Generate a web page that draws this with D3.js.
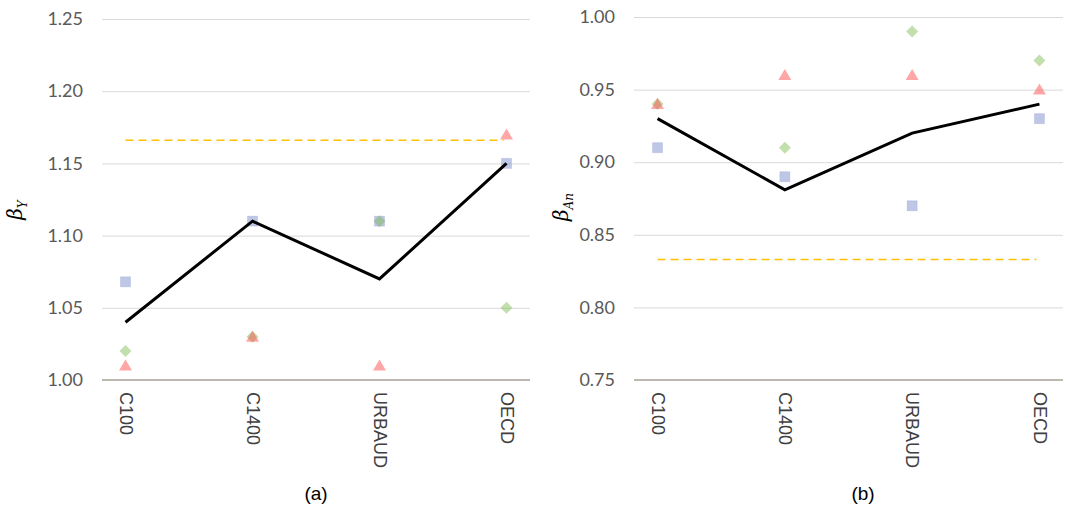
<!DOCTYPE html>
<html>
<head>
<meta charset="utf-8">
<script src="https://cdn.jsdelivr.net/npm/d3@7"></script>
<style>
  html, body { margin: 0; padding: 0; background: #fff; }
  svg { display: block; }
</style>
</head>
<body>
<svg id="chart" width="1068" height="510"></svg>
<script>
const categories = ["C100", "C1400", "URBAUD", "OECD"];

// Panel (a): beta_Y
const aMean     = [1.04, 1.11, 1.07, 1.15];
const aSquare   = [1.068, 1.11, 1.11, 1.15];
const aDiamond  = [1.02, 1.03, 1.11, 1.05];
const aTriangle = [1.01, 1.03, 1.01, 1.17];
const aRef = 1.166;
const aTicks = [1.00, 1.05, 1.10, 1.15, 1.20, 1.25];

// Panel (b): beta_An
const bMean     = [0.93, 0.881, 0.92, 0.94];
const bSquare   = [0.91, 0.89, 0.87, 0.93];
const bDiamond  = [0.94, 0.91, 0.99, 0.97];
const bTriangle = [0.94, 0.96, 0.96, 0.95];
const bRef = 0.833;
const bTicks = [0.75, 0.80, 0.85, 0.90, 0.95, 1.00];

const svg = d3.select("#chart");

function panel(cfg) {
  const g = svg.append("g");
  const x = d3.scalePoint().domain(categories).range([cfg.x0, cfg.x1]).padding(0.185);
  const y = d3.scaleLinear().domain([cfg.ticks[0], cfg.ticks[cfg.ticks.length - 1]]).range([cfg.yb, cfg.yt]);

  // gridlines
  const grid = g.append("g").attr("transform", `translate(${cfg.x0},0)`)
    .call(d3.axisLeft(y).tickValues(cfg.ticks).tickSize(-(cfg.x1 - cfg.x0)).tickFormat(""));
  grid.select(".domain").remove();
  grid.selectAll(".tick line").attr("stroke", "#d9d9d9").attr("stroke-width", 1);

  // baseline
  g.append("line").attr("x1", cfg.x0).attr("x2", cfg.x1)
    .attr("y1", y(cfg.ticks[0])).attr("y2", y(cfg.ticks[0]))
    .attr("stroke", "#bcb9b0").attr("stroke-width", 2);

  // y tick labels
  const ya = g.append("g").attr("transform", `translate(${cfg.x0 - 19},0)`)
    .call(d3.axisLeft(y).tickValues(cfg.ticks).tickSize(0).tickPadding(0).tickFormat(d3.format(".2f")));
  ya.select(".domain").remove();
  ya.selectAll("text").attr("font-family", "Lato, 'Liberation Sans', sans-serif")
    .attr("font-size", 18).attr("fill", "#595959");

  // x category labels, rotated
  const xa = g.append("g").attr("transform", `translate(0,${cfg.yb + 12})`)
    .call(d3.axisBottom(x).tickSize(0).tickPadding(0));
  xa.select(".domain").remove();
  xa.selectAll("text")
    .attr("font-family", "'Liberation Sans', Arial, sans-serif")
    .attr("font-size", 18).attr("fill", "#404040")
    .attr("text-anchor", "start").attr("dy", "0.35em").attr("y", 0)
    .attr("transform", "rotate(90)");

  // reference dashed line
  g.append("line")
    .attr("x1", x(categories[0])).attr("x2", x(categories[categories.length - 1]) - 3)
    .attr("y1", y(cfg.ref)).attr("y2", y(cfg.ref))
    .attr("stroke", "#ffc000").attr("stroke-width", 1.6).attr("stroke-dasharray", "8,5");

  // squares
  g.selectAll(".sq").data(cfg.square).join("rect")
    .attr("x", (d, i) => x(categories[i]) - 5).attr("y", d => y(d) - 5)
    .attr("width", 10).attr("height", 10)
    .attr("fill", "rgb(112,130,200)").attr("fill-opacity", 0.45)
    .attr("stroke", "rgb(112,130,200)").attr("stroke-opacity", 0.2);

  // diamonds
  g.selectAll(".dm").data(cfg.diamond).join("path")
    .attr("d", "M0,-6L6,0L0,6L-6,0Z")
    .attr("transform", (d, i) => `translate(${x(categories[i])},${y(d)})`)
    .attr("fill", "rgb(120,185,75)").attr("fill-opacity", 0.45);

  // triangles
  g.selectAll(".tr").data(cfg.triangle).join("path")
    .attr("d", "M0,-6L6.5,5L-6.5,5Z")
    .attr("transform", (d, i) => `translate(${x(categories[i])},${y(d)})`)
    .attr("fill", "rgb(255,80,80)").attr("fill-opacity", 0.5);

  // mean line
  g.append("path").datum(cfg.mean)
    .attr("d", d3.line().x((d, i) => x(categories[i])).y(d => y(d)))
    .attr("fill", "none").attr("stroke", "#000").attr("stroke-width", 3)
    .attr("stroke-linejoin", "miter");

  // y-axis title
  const t = g.append("text")
    .attr("transform", `translate(${cfg.titleX},${cfg.titleY}) rotate(-90)`)
    .attr("text-anchor", "middle")
    .attr("font-family", "'DejaVu Serif', 'Liberation Serif', serif")
    .attr("font-style", "italic").attr("fill", "#000");
  t.append("tspan").attr("font-size", 20).text("β");
  t.append("tspan").attr("font-size", 12).attr("dy", 5).text(cfg.sub);

  // panel label
  g.append("text").attr("x", cfg.labelX).attr("y", 500)
    .attr("text-anchor", "middle")
    .attr("font-family", "'Liberation Sans', Arial, sans-serif")
    .attr("font-size", 19).attr("fill", "#000").text(cfg.label);
}

panel({ x0: 102, x1: 530, yb: 380, yt: 19, ticks: aTicks,
  mean: aMean, square: aSquare, diamond: aDiamond, triangle: aTriangle, ref: aRef,
  sub: "Y", titleX: 22, titleY: 210, label: "(a)", labelX: 316 });

panel({ x0: 634, x1: 1063, yb: 380, yt: 17, ticks: bTicks,
  mean: bMean, square: bSquare, diamond: bDiamond, triangle: bTriangle, ref: bRef,
  sub: "An", titleX: 568, titleY: 207, label: "(b)", labelX: 863 });
</script>
</body>
</html>
